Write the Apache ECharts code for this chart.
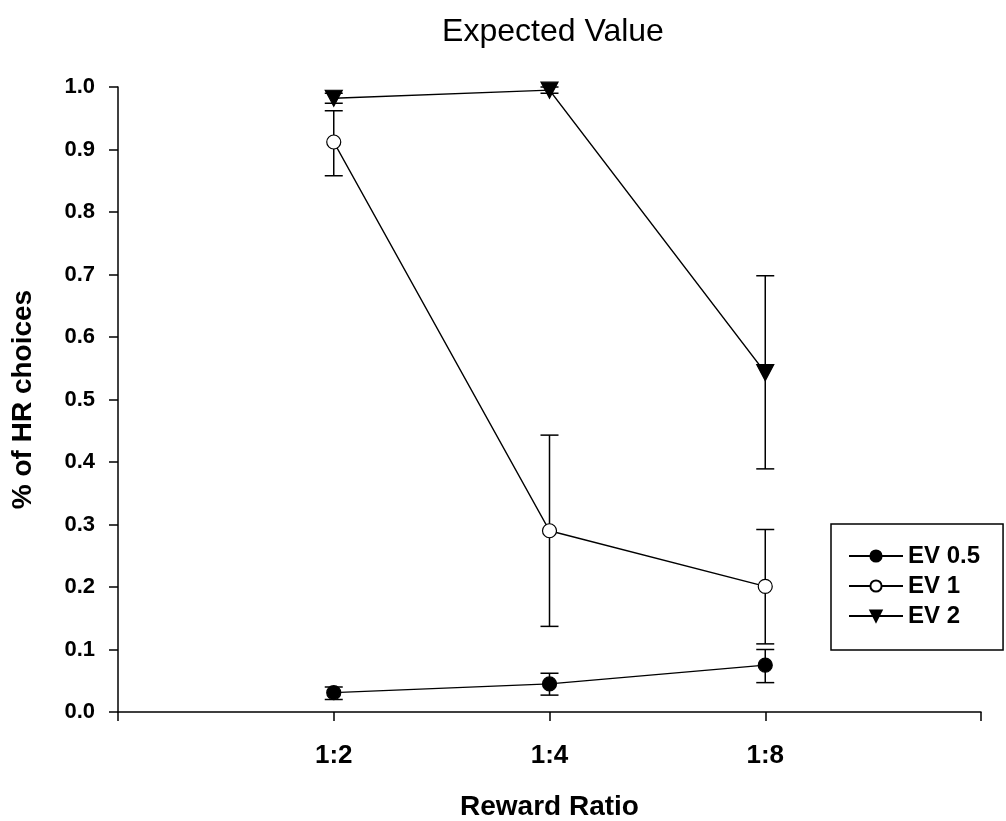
<!DOCTYPE html>
<html>
<head>
<meta charset="utf-8">
<script src="https://cdn.jsdelivr.net/npm/echarts@6/dist/echarts.min.js"></script>
<style>
  html, body { margin: 0; padding: 0; background: #fff; }
  #main { width: 1006px; height: 821px; }
</style>
</head>
<body>
<div id="main"></div>
<script>
// x positions of the reward ratios on the value axis
var ratioPos = [1, 2, 3];
var ratioLabels = ['1:2', '1:4', '1:8'];
var seriesNames = ['EV 0.5', 'EV 1', 'EV 2'];

// means
var ev05 = [0.031, 0.045, 0.075];
var ev1 = [0.912, 0.290, 0.201];
var ev2 = [0.982, 0.995, 0.543];

// error bar ends (low / high)
var ev05Lo = [0.020, 0.027, 0.047];
var ev05Hi = [0.040, 0.062, 0.100];
var ev1Lo = [0.858, 0.137, 0.109];
var ev1Hi = [0.962, 0.443, 0.292];
var ev2Lo = [0.974, 0.990, 0.389];
var ev2Hi = [0.990, 1.000, 0.698];

var chart = echarts.init(document.getElementById('main'));
var font = 'Liberation Sans, Arial, sans-serif';

var pairs = function (ys) {
  return ys.map(function (y, i) { return [ratioPos[i], y]; });
};
var errData = function (lo, hi) {
  return lo.map(function (l, i) { return [ratioPos[i], l, hi[i]]; });
};

var errRender = function (params, api) {
  var x = api.value(0);
  var lo = api.coord([x, api.value(1)]);
  var hi = api.coord([x, api.value(2)]);
  var w = 9;
  var st = { stroke: '#000', lineWidth: 1.5 };
  return {
    type: 'group',
    children: [
      { type: 'line', shape: { x1: lo[0], y1: lo[1], x2: hi[0], y2: hi[1] }, style: st },
      { type: 'line', shape: { x1: lo[0] - w, y1: lo[1], x2: lo[0] + w, y2: lo[1] }, style: st },
      { type: 'line', shape: { x1: hi[0] - w, y1: hi[1], x2: hi[0] + w, y2: hi[1] }, style: st }
    ]
  };
};

var triDown = 'path://M0,0 L10,0 L5,9 Z';

var lineSeries = function (name, data, symbol, size, fill) {
  return {
    name: name,
    type: 'line',
    data: pairs(data),
    symbol: symbol,
    symbolSize: size,
    showAllSymbol: true,
    z: 5,
    lineStyle: { color: '#000', width: 1.5 },
    itemStyle: { color: fill, borderColor: '#000', borderWidth: 1.2, opacity: 1 },
    emphasis: { disabled: true }
  };
};

var errSeries = function (lo, hi) {
  return {
    type: 'custom',
    renderItem: errRender,
    data: errData(lo, hi),
    z: 2,
    silent: true
  };
};

var option = {
  backgroundColor: '#fff',
  animation: false,
  title: {
    text: 'Expected Value',
    left: 548,
    textAlign: 'center',
    top: 11,
    textStyle: { fontFamily: font, fontSize: 32, fontWeight: 'normal', color: '#000' }
  },
  legend: {
    orient: 'vertical',
    left: 831,
    top: 524,
    data: seriesNames,
    itemWidth: 54,
    itemHeight: 14,
    itemGap: 6,
    itemTextGap: 10,
    padding: [20, 23, 22, 17],
    borderColor: '#000',
    borderWidth: 1.5,
    textStyle: { fontFamily: font, fontSize: 24, fontWeight: 'bold', color: '#000' }
  },
  grid: { left: 118, right: 25, top: 87, bottom: 109, containLabel: false, outerBoundsMode: 'none' },
  xAxis: {
    type: 'value',
    min: 0,
    max: 4,
    interval: 1,
    name: 'Reward Ratio',
    nameLocation: 'middle',
    nameGap: 81,
    nameTextStyle: { fontFamily: font, fontSize: 28, fontWeight: 'bold', color: '#000' },
    axisLine: { lineStyle: { color: '#000', width: 1.5 } },
    axisTick: { show: true, length: 9, lineStyle: { color: '#000', width: 1.5 } },
    splitLine: { show: false },
    axisLabel: {
      margin: 31,
      fontFamily: font, fontSize: 26, fontWeight: 'bold', color: '#000',
      formatter: function (v) {
        var i = ratioPos.indexOf(v);
        return i >= 0 ? ratioLabels[i] : '';
      }
    }
  },
  yAxis: {
    type: 'value',
    min: 0,
    max: 1,
    interval: 0.1,
    name: '% of HR choices',
    nameLocation: 'middle',
    nameGap: 81,
    nameTextStyle: { fontFamily: font, fontSize: 28, fontWeight: 'bold', color: '#000' },
    axisLine: { show: true, lineStyle: { color: '#000', width: 1.5 } },
    axisTick: { show: true, length: 9, lineStyle: { color: '#000', width: 1.5 } },
    splitLine: { show: false },
    axisLabel: {
      margin: 23,
      fontFamily: font, fontSize: 22, fontWeight: 'bold', color: '#000',
      formatter: function (v) { return v.toFixed(1); }
    }
  },
  series: [
    errSeries(ev05Lo, ev05Hi),
    errSeries(ev1Lo, ev1Hi),
    errSeries(ev2Lo, ev2Hi),
    lineSeries(seriesNames[0], ev05, 'circle', 14, '#000'),
    lineSeries(seriesNames[1], ev1, 'circle', 14, '#fff'),
    lineSeries(seriesNames[2], ev2, triDown, [17, 16], '#000')
  ]
};

chart.setOption(option);
</script>
</body>
</html>
